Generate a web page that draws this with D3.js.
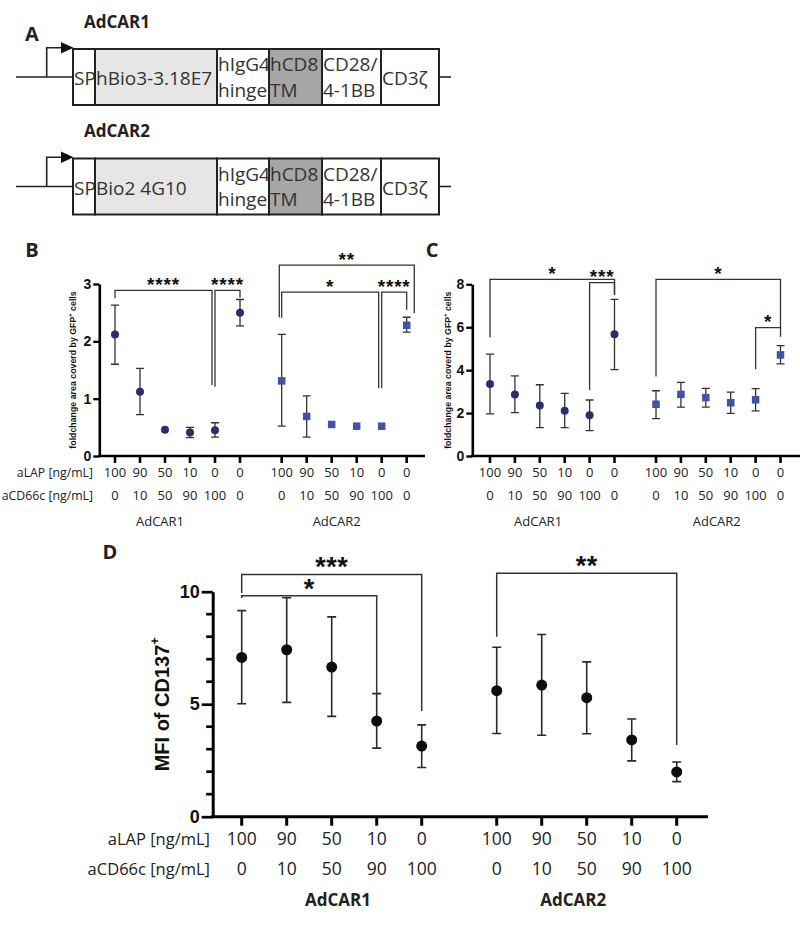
<!DOCTYPE html>
<html><head><meta charset="utf-8">
<script src="https://cdn.jsdelivr.net/npm/d3@7"></script>
<style>body{margin:0;background:#fff}</style>
</head><body>
<svg id="fig" width="800" height="935" xmlns="http://www.w3.org/2000/svg"></svg>
<script>
// ================= DATA =================
const groups = ["AdCAR1", "AdCAR2"];
const binders = ["hBio3-3.18E7", "Bio2 4G10"];
const domainLabels = [["SP"], null, ["hIgG4", "hinge"], ["hCD8", "TM"], ["CD28/", "4-1BB"], ["CD3ζ"]];

const aLAP6 = ["100", "90", "50", "10", "0", "0"];
const aCD66c6 = ["0", "10", "50", "90", "100", "0"];
const aLAP5 = ["100", "90", "50", "10", "0"];
const aCD66c5 = ["0", "10", "50", "90", "100"];

// Panel B
const bMean1 = [2.12, 1.12, 0.46, 0.41, 0.45, 2.50];
const bLo1   = [1.60, 0.72, 0.46, 0.32, 0.33, 2.27];
const bHi1   = [2.63, 1.53, 0.46, 0.50, 0.58, 2.73];
const bMean2 = [1.31, 0.69, 0.55, 0.52, 0.52, 2.28];
const bLo2   = [0.52, 0.33, 0.55, 0.52, 0.52, 2.16];
const bHi2   = [2.12, 1.05, 0.55, 0.52, 0.52, 2.42];
const bTicks = [0, 1, 2, 3];
// [group, fromIdx, toIdx, level, leftEnd, rightEnd, label]
const bBrackets = [
  [0, 0, 4, 2.89, 2.75, 1.24, "****"],
  [0, 4, 5, 2.89, 1.21, 2.76, "****"],
  [1, 0, 5, 3.33, 2.42, 2.49, "**"],
  [1, 0, 4, 2.86, 2.41, 1.18, "*"],
  [1, 4, 5, 2.86, 1.18, 2.55, "****"]
];

// Panel C
const cMean1 = [3.35, 2.87, 2.35, 2.11, 1.90, 5.67];
const cLo1   = [1.96, 2.02, 1.32, 1.32, 1.18, 4.02];
const cHi1   = [4.75, 3.73, 3.32, 2.92, 2.61, 7.30];
const cMean2 = [2.41, 2.87, 2.72, 2.48, 2.62, 4.71];
const cLo2   = [1.74, 2.28, 2.28, 1.99, 2.10, 4.29];
const cHi2   = [3.04, 3.43, 3.15, 2.98, 3.14, 5.14];
const cTicks = [0, 2, 4, 6, 8];
const cBrackets = [
  [0, 0, 5, 8.23, 5.53, 7.50, "*"],
  [0, 4, 5, 8.08, 3.08, 7.53, "***"],
  [1, 0, 5, 8.23, 3.70, 5.98, "*"],
  [1, 4, 5, 5.98, 4.04, 5.56, "*"]
];

// Panel D
const dMean1 = [7.08, 7.42, 6.65, 4.25, 3.14];
const dLo1   = [5.02, 5.08, 4.46, 3.05, 2.19];
const dHi1   = [9.16, 9.73, 8.88, 5.47, 4.08];
const dMean2 = [5.60, 5.85, 5.29, 3.41, 1.99];
const dLo2   = [3.70, 3.62, 3.69, 2.48, 1.56];
const dHi2   = [7.53, 8.10, 6.88, 4.34, 2.43];
const dMajor = [0, 5, 10];
const dMinor = [1, 2, 3, 4, 6, 7, 8, 9];
const dBrackets = [
  [0, 0, 4, 10.77, 9.94, 4.70, "***"],
  [0, 0, 3, 9.82, 9.72, 5.50, "*"],
  [1, 0, 4, 10.82, 8.00, 3.19, "**"]
];

// ================= DRAWING =================
const svg = d3.select("#fig");
const SANS = "'Open Sans', sans-serif";
const ARIAL = "'Liberation Sans', Arial, sans-serif";
const INK = "#222";

function txt(x, y, s, o = {}) {
  return svg.append("text").attr("x", x).attr("y", y).text(s)
    .attr("font-family", o.family || SANS).attr("font-size", o.size || 13)
    .attr("font-weight", o.weight || "normal").attr("fill", o.fill || INK)
    .attr("text-anchor", o.anchor || "middle")
    .attr("dominant-baseline", o.baseline || "central");
}

// ---- Panel A: constructs
txt(32, 33, "A", {size: 20, weight: "bold"});
const segUnits = [22, 122, 52, 53, 59, 58];
const segFill = ["#fff", "#e6e6e6", "#fff", "#a6a6a6", "#fff", "#fff"];
const segCum = d3.cumsum([0].concat(segUnits));
const ax = d3.scaleLinear().domain([0, d3.sum(segUnits)]).range([73, 439]);
groups.forEach((g, r) => {
  const top = 49 + r * 109.5, h = 56, mid = top + 28;
  txt(84, top - 28, g, {size: 17, weight: "bold", anchor: "start"});
  svg.append("path").attr("d", `M16,${mid}H73M46.7,${mid}V${top - 1.3}H63`)
    .attr("fill", "none").attr("stroke", INK).attr("stroke-width", 1.6);
  svg.append("path").attr("d", `M61,${top - 7}L73.5,${top - 1.3}L61,${top + 4.4}Z`).attr("fill", "#111");
  svg.append("path").attr("d", `M439,${mid}H451`).attr("stroke", INK).attr("stroke-width", 1.6);
  segUnits.forEach((u, i) => {
    const x0 = ax(segCum[i]), x1 = ax(segCum[i + 1]);
    svg.append("rect").attr("x", x0).attr("y", top).attr("width", x1 - x0).attr("height", h)
      .attr("fill", segFill[i]).attr("stroke", INK).attr("stroke-width", 2);
    const lines = domainLabels[i] || [binders[r]];
    if (lines.length === 1) {
      txt(x0 + 1, top + 36, lines[0], {size: 19, anchor: "start", baseline: "alphabetic", fill: "#333"});
    } else {
      txt(x0 + 1, top + 22, lines[0], {size: 19, anchor: "start", baseline: "alphabetic", fill: "#333"});
      txt(x0 + 1, top + 47.5, lines[1], {size: 19, anchor: "start", baseline: "alphabetic", fill: "#333"});
    }
  });
});

// ---- generic scatter panel
function panel(cfg) {
  const {x, y, gStep, axisX, xEnd, nPer} = cfg;
  const px = (g, i) => x(i + g * gStep);
  const y0 = y.range()[0], yTop = y.range()[1];
  // y axis
  const yAxis = d3.axisLeft(y).tickValues(cfg.yTicks).tickSize(cfg.tickLen).tickSizeOuter(0)
    .tickPadding(cfg.tickPad).tickFormat(d3.format("d"));
  const ga = svg.append("g").attr("transform", `translate(${axisX},0)`).call(yAxis);
  ga.select(".domain").attr("stroke", "#000").attr("stroke-width", cfg.axW);
  ga.selectAll(".tick line").attr("stroke", "#000").attr("stroke-width", cfg.axW * 0.9);
  ga.selectAll(".tick text").attr("font-family", ARIAL).attr("font-weight", "bold")
    .attr("font-size", cfg.yFont).attr("fill", "#111");
  if (cfg.minor) {
    svg.append("g").selectAll("line").data(cfg.minor).join("line")
      .attr("x1", axisX - cfg.minorLen).attr("x2", axisX).attr("y1", d => y(d)).attr("y2", d => y(d))
      .attr("stroke", "#000").attr("stroke-width", cfg.axW * 0.9);
  }
  // x axis
  svg.append("line").attr("x1", axisX - cfg.axW / 2).attr("x2", xEnd).attr("y1", y0).attr("y2", y0)
    .attr("stroke", "#000").attr("stroke-width", cfg.axW);
  groups.forEach((gname, g) => {
    d3.range(nPer).forEach(i => {
      svg.append("line").attr("x1", px(g, i)).attr("x2", px(g, i)).attr("y1", y0).attr("y2", y0 + cfg.xTickLen)
        .attr("stroke", "#000").attr("stroke-width", cfg.axW);
      txt(px(g, i), cfg.row1Y, cfg.row1[i], {size: cfg.xFont});
      txt(px(g, i), cfg.row2Y, cfg.row2[i], {size: cfg.xFont});
    });
    txt(x(cfg.groupLabelIdx[g] + g * gStep), cfg.groupY, gname,
      {size: cfg.groupFont, weight: cfg.groupWeight});
  });
  if (cfg.rowLabels) {
    txt(cfg.rowLabelX, cfg.row1Y, "aLAP [ng/mL]", {size: cfg.rowFont, anchor: "end"});
    txt(cfg.rowLabelX, cfg.row2Y, "aCD66c [ng/mL]", {size: cfg.rowFont, anchor: "end"});
  }
  // y label
  const lab = svg.append("text").attr("transform", `translate(${cfg.yLabX},${(y0 + yTop) / 2}) rotate(-90)`)
    .attr("text-anchor", "middle").attr("dominant-baseline", "central")
    .attr("font-family", ARIAL).attr("font-weight", "bold").attr("font-size", cfg.yLabSize).attr("fill", "#111");
  lab.append("tspan").text(cfg.yLab);
  lab.append("tspan").text("+").attr("baseline-shift", "super").attr("font-size", cfg.yLabSize * 0.65);
  if (cfg.yLabTail) lab.append("tspan").text(cfg.yLabTail);
  // brackets
  const ends = new Set(cfg.brackets.map(b => b[0] + "-" + b[1]));
  cfg.brackets.forEach(b => {
    const [g, i1, i2, lv, le, re, s] = b;
    let xa = px(g, i1), xb = px(g, i2);
    if (ends.has(g + "-" + i2) && i2 !== i1) xb -= 3;
    if (cfg.outerPad && i1 === 0 && i2 === nPer - 1 && cfg.brackets.some(o => o !== b && o[0] === g && o[2] === i2 && o[1] !== 0)) {
      xa -= cfg.outerPad[0]; xb += cfg.outerPad[1];
    }
    svg.append("path").attr("d", `M${xa},${y(le)}V${y(lv)}H${xb}V${y(re)}`)
      .attr("fill", "none").attr("stroke", "#333").attr("stroke-width", cfg.brW);
    svg.append("text").attr("x", (xa + xb) / 2).attr("y", y(lv) - cfg.starGap + cfg.starFont * 0.56)
      .attr("text-anchor", "middle").attr("font-family", ARIAL).attr("font-weight", "bold")
      .attr("font-size", cfg.starFont).attr("letter-spacing", cfg.starSpacing || 0).attr("fill", "#111").text(s);
  });
  // error bars + markers
  cfg.series.forEach((sr, g) => {
    const gg = svg.append("g");
    sr.mean.forEach((m, i) => {
      const cx = px(g, i);
      if (sr.hi[i] - sr.lo[i] > 0.001) {
        gg.append("path").attr("d",
          `M${cx - cfg.cap},${y(sr.hi[i])}H${cx + cfg.cap}M${cx},${y(sr.hi[i])}V${y(sr.lo[i])}M${cx - cfg.cap},${y(sr.lo[i])}H${cx + cfg.cap}`)
          .attr("fill", "none").attr("stroke", cfg.errColor).attr("stroke-width", cfg.errW);
      }
      if (sr.shape === "square") {
        gg.append("rect").attr("x", cx - cfg.sq / 2).attr("y", y(m) - cfg.sq / 2)
          .attr("width", cfg.sq).attr("height", cfg.sq).attr("fill", sr.color);
      } else {
        gg.append("circle").attr("cx", cx).attr("cy", y(m)).attr("r", cfg.r).attr("fill", sr.color);
      }
    });
  });
}

const NAVY = "#2a2f6a", BLUE = "#4152a8";

// ---- Panel B
txt(32, 249, "B", {size: 20, weight: "bold"});
panel({
  x: d3.scaleLinear().domain([0, 1]).range([115, 140]),
  y: d3.scaleLinear().domain([0, 3]).range([456, 284]),
  gStep: 6.667, axisX: 99.3, xEnd: 425, nPer: 6,
  yTicks: bTicks, tickLen: 6, tickPad: 2, axW: 2.6, yFont: 14,
  xTickLen: 7, xFont: 13, rowFont: 12.3, row1: aLAP6, row2: aCD66c6, row1Y: 472, row2Y: 495,
  rowLabels: true, rowLabelX: 93,
  groupLabelIdx: [1.8, 2.2], groupY: 520.5, groupFont: 13, groupWeight: "normal",
  yLab: "foldchange area coverd by GFP", yLabTail: " cells", yLabX: 73, yLabSize: 8.8,
  brackets: bBrackets, brW: 1.3, starFont: 19, starGap: 10, starSpacing: 0.8, outerPad: [2.4, 7.6],
  series: [
    {mean: bMean1, lo: bLo1, hi: bHi1, shape: "circle", color: NAVY},
    {mean: bMean2, lo: bLo2, hi: bHi2, shape: "square", color: BLUE}
  ],
  cap: 4, errW: 1.3, errColor: "#333", r: 4, sq: 7.5
});

// ---- Panel C
txt(432, 249, "C", {size: 20, weight: "bold"});
panel({
  x: d3.scaleLinear().domain([0, 1]).range([490, 514.9]),
  y: d3.scaleLinear().domain([0, 8]).range([456, 284.3]),
  gStep: 6.667, axisX: 472.3, xEnd: 800, nPer: 6,
  yTicks: cTicks, tickLen: 6, tickPad: 2, axW: 2.6, yFont: 14,
  xTickLen: 7, xFont: 13, rowFont: 12.3, row1: aLAP6, row2: aCD66c6, row1Y: 472, row2Y: 495,
  rowLabels: false,
  groupLabelIdx: [1.93, 2.44], groupY: 520.5, groupFont: 13, groupWeight: "normal",
  yLab: "foldchange area coverd by GFP", yLabTail: " cells", yLabX: 448, yLabSize: 8.8,
  brackets: cBrackets, brW: 1.3, starFont: 19, starGap: 10, starSpacing: 0.8,
  series: [
    {mean: cMean1, lo: cLo1, hi: cHi1, shape: "circle", color: NAVY},
    {mean: cMean2, lo: cLo2, hi: cHi2, shape: "square", color: BLUE}
  ],
  cap: 4, errW: 1.3, errColor: "#333", r: 4, sq: 7.5
});

// ---- Panel D
txt(110, 551, "D", {size: 20, weight: "bold"});
panel({
  x: d3.scaleLinear().domain([0, 1]).range([241.7, 286.7]),
  y: d3.scaleLinear().domain([0, 10]).range([816.7, 591.7]),
  gStep: 5.667, axisX: 212.7, xEnd: 708, nPer: 5,
  yTicks: dMajor, minor: dMinor, minorLen: 6.5, tickLen: 11, tickPad: 2, axW: 3, yFont: 18,
  xTickLen: 9, xFont: 17.5, rowFont: 16.5, row1: aLAP5, row2: aCD66c5, row1Y: 838, row2Y: 868,
  rowLabels: true, rowLabelX: 210,
  groupLabelIdx: [2.14, 1.7], groupY: 899, groupFont: 17, groupWeight: "bold",
  yLab: "MFI of CD137", yLabX: 162, yLabSize: 20,
  brackets: dBrackets, brW: 1.5, starFont: 27, starGap: 13, starSpacing: 0.5,
  series: [
    {mean: dMean1, lo: dLo1, hi: dHi1, shape: "circle", color: "#0d0d0d"},
    {mean: dMean2, lo: dLo2, hi: dHi2, shape: "circle", color: "#0d0d0d"}
  ],
  cap: 4.5, errW: 1.6, errColor: "#2a2a2a", r: 5.5, sq: 8
});
</script>
</body></html>
